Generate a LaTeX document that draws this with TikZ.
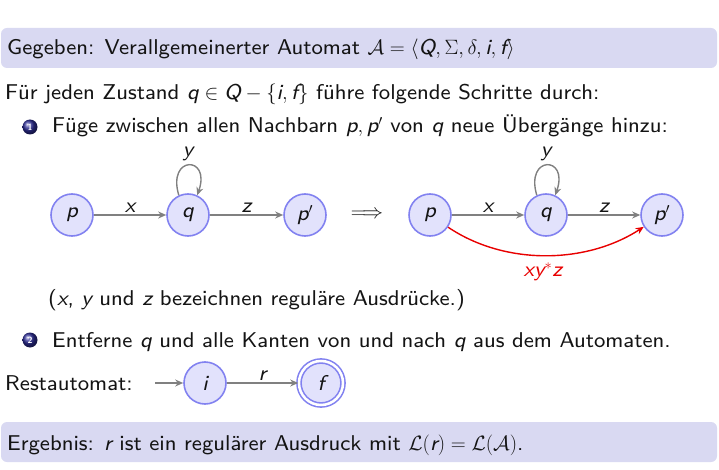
\documentclass[tikz,border=0pt]{standalone}
\usepackage{fontspec}
\setmainfont{lmsans8-regular.otf}[ItalicFont=lmsans8-oblique.otf,BoldFont=lmsans10-bold.otf]
\usetikzlibrary{arrows.meta}
\newcommand{\mv}[1]{\mbox{\itshape #1}}
\definecolor{boxfill}{RGB}{217,217,242}
\definecolor{nodefill}{RGB}{226,226,252}
\definecolor{nodeline}{RGB}{130,130,240}
\definecolor{arrgray}{RGB}{128,128,128}
\definecolor{redarr}{RGB}{232,0,0}
\definecolor{txt}{RGB}{20,20,20}
\definecolor{ballblue}{RGB}{45,45,150}
\tikzset{
  every node/.style={font=\fontsize{21.4}{25}\selectfont, text=txt},
  txtline/.style={anchor=base west, inner sep=0pt},
  state/.style={circle, draw=nodeline, fill=nodefill, line width=1.6pt, minimum size=42pt, inner sep=0pt},
  accstate/.style={state, minimum size=44pt, double=white, double distance=2.5pt},
  garrow/.style={draw=arrgray, line width=1.4pt, -{Stealth[length=8pt,width=7pt]}},
  rarrow/.style={draw=redarr, line width=1.4pt, -{Stealth[length=8pt,width=7pt]}},
  lbl/.style={inner sep=2pt},
  ballnum/.style={circle, ball color=ballblue, minimum size=15pt, inner sep=0pt, text=white, font=\fontsize{9}{9}\selectfont\bfseries},
  blockbox/.style={fill=boxfill, rounded corners=6pt}
}
\begin{document}
\begin{tikzpicture}[x=1pt,y=-1pt]
\useasboundingbox (0,0) rectangle (719,470);
% blocks
\fill[blockbox] (1,28) rectangle (717,68);
\fill[blockbox] (1,422) rectangle (717,462);
% text lines
\node[txtline] (given) at (7,55) {Gegeben: Verallgemeinerter Automat $\mathcal{A} = \langle \mv{Q}, \Sigma, \delta, \mv{i}, \mv{f} \rangle$};
\node[txtline] (forall) at (5,100) {Für jeden Zustand $\mv{q} \in \mv{Q} - \{\mv{i}, \mv{f}\}$ führe folgende Schritte durch:};
\node[ballnum] (b1) at (30,127) {1};
\node[txtline] (step1) at (52,133) {Füge zwischen allen Nachbarn $\mv{p}, \mv{p}'$ von $\mv{q}$ neue Übergänge hinzu:};
\node[txtline] (remark) at (48,305) {($\mv{x}$, $\mv{y}$ und $\mv{z}$ bezeichnen reguläre Ausdrücke.)};
\node[ballnum] (b2) at (30,340) {2};
\node[txtline] (step2) at (52,347) {Entferne $\mv{q}$ und alle Kanten von und nach $\mv{q}$ aus dem Automaten.};
\node[txtline] (rest) at (5,390) {Restautomat:};
\node[txtline] (result) at (7,450) {Ergebnis: $\mv{r}$ ist ein regulärer Ausdruck mit $\mathcal{L}(\mv{r}) = \mathcal{L}(\mathcal{A})$.};
% left automaton
\node[state] (p1) at (72,215) {$\mv{p}$};
\node[state] (q1) at (188,215) {$\mv{q}$};
\node[state] (pp1) at (305,215) {$\mv{p}'$};
\draw[garrow] (p1) -- node[lbl, above] (x1) {$\mv{x}$} (q1);
\draw[garrow] (q1) -- node[lbl, above] (z1) {$\mv{z}$} (pp1);
\draw[garrow] (q1.115) .. controls +(-12,-40) and +(14,-40) .. (q1.65);
\node (y1) at (188,154) {$\mv{y}$};
% implication
\node[inner sep=0pt] (impl) at (367,215) {$\Longrightarrow$};
% right automaton
\node[state] (p2) at (430,215) {$\mv{p}$};
\node[state] (q2) at (546,215) {$\mv{q}$};
\node[state] (pp2) at (662,215) {$\mv{p}'$};
\draw[garrow] (p2) -- node[lbl, above] (x2) {$\mv{x}$} (q2);
\draw[garrow] (q2) -- node[lbl, above] (z2) {$\mv{z}$} (pp2);
\draw[garrow] (q2.115) .. controls +(-12,-40) and +(14,-40) .. (q2.65);
\node (y2) at (546,154) {$\mv{y}$};
\draw[rarrow] (p2) to[out=-34, in=-147, looseness=0.9] (pp2);
\node[text=redarr] (xyz) at (543,272) {$\mv{xy}^{*}\mv{z}$};
% rest automaton
\coordinate (init) at (155,383);
\node[state] (i) at (205,383) {$\mv{i}$};
\node[accstate] (f) at (321,383) {$\mv{f}$};
\draw[garrow] (init) -- (i);
\draw[garrow] (i) -- node[lbl, above] (r) {$\mv{r}$} (f);
\end{tikzpicture}
\end{document}
